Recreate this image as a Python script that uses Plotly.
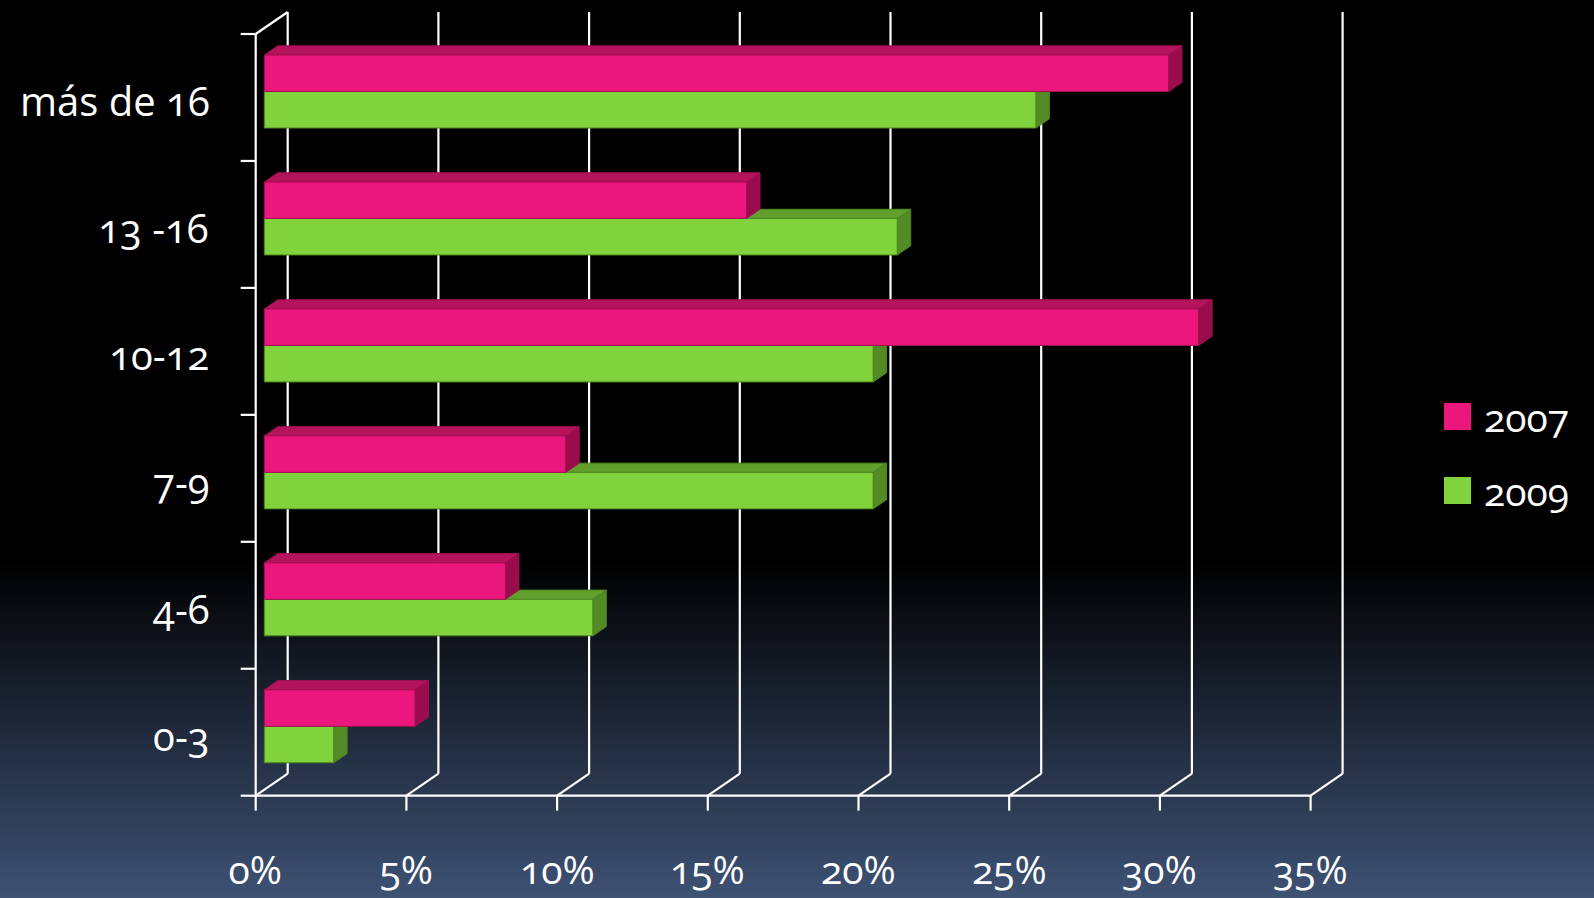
import plotly.graph_objects as go

# ---- data -------------------------------------------------------------
categories = ["0-3", "4-6", "7-9", "10-12", "13 -16", "más de 16"]
series_names = ["2007", "2009"]
values_2007 = [5.0, 8.0, 10.0, 31.0, 16.0, 30.0]
values_2009 = [2.3, 10.9, 20.2, 20.2, 21.0, 25.6]
x_tick_values = [0, 5, 10, 15, 20, 25, 30, 35]
x_tick_labels = ["0%", "5%", "10%", "15%", "20%", "25%", "30%", "35%"]

# ---- geometry ---------------------------------------------------------
W, H = 1594, 898
X0_PX, PX_PER_PCT = 255.7, 30.14      # front plane: 0 % position and scale
Y0_PX, PX_PER_CAT = 795.7, 126.95     # front plane: category base and band size

x_range = [-X0_PX / PX_PER_PCT, (W - X0_PX) / PX_PER_PCT]
y_range = [-(H - Y0_PX) / PX_PER_CAT, Y0_PX / PX_PER_CAT]


def ux(px):
    return px / PX_PER_PCT


def uy(px):
    return px / PX_PER_CAT


DX, DY = ux(32), uy(22)       # depth vector of the floor / back wall
F0, F1 = 0.27, 0.69           # front and back depth of the bars
BAR_H = 0.2875                # bar thickness in category units
X_MAX = x_tick_values[-1]
N = len(categories)

FONT = "Open Sans, Lato, sans-serif"
WHITE = "#FFFFFF"

styles = {
    "2007": dict(front="#EC177C", top="#B3145C", side="#9B0C4D", edge="#A10F52"),
    "2009": dict(front="#80D33C", top="#62A02D", side="#538C26", edge="#4E8622"),
}

fig = go.Figure()


def add_poly(xs, ys, fill, edge, width=1.0):
    fig.add_trace(go.Scatter(
        x=xs + [xs[0]], y=ys + [ys[0]], mode="lines", fill="toself",
        fillcolor=fill, line=dict(color=edge, width=width),
        hoverinfo="skip", showlegend=False,
    ))


def add_line(x0, y0, x1, y1, width=2.2):
    fig.add_trace(go.Scatter(
        x=[x0, x1], y=[y0, y1], mode="lines",
        line=dict(color=WHITE, width=width),
        hoverinfo="skip", showlegend=False,
    ))


# ---- back wall, floor edges and front axes ----------------------------
for v in x_tick_values:
    add_line(v + DX, DY, v + DX, N + DY)          # back wall gridline
    add_line(v, 0, v + DX, DY)                    # floor diagonal
    add_line(v, 0, v, -uy(15))                    # x tick mark
add_line(0, 0, X_MAX, 0)                          # x axis line
add_line(0, 0, 0, N)                              # y axis line
add_line(0, N, DX, N + DY)                        # top-left wall edge
for i in range(N + 1):
    add_line(0, i, -ux(15), i)                    # y tick marks


# ---- 3D bars ------------------------------------------------------------
def add_box(value, y_low, style):
    ax, ay = F0 * DX, F0 * DY
    bx, by = F1 * DX, F1 * DY
    y_high = y_low + BAR_H
    # top face
    add_poly([ax, value + ax, value + bx, bx],
             [y_high + ay, y_high + ay, y_high + by, y_high + by],
             style["top"], style["edge"])
    # right side face
    add_poly([value + ax, value + bx, value + bx, value + ax],
             [y_low + ay, y_low + by, y_high + by, y_high + ay],
             style["side"], style["edge"])
    # front face
    add_poly([ax, value + ax, value + ax, ax],
             [y_low + ay, y_low + ay, y_high + ay, y_high + ay],
             style["front"], style["edge"])


for i in range(N):
    centre = i + 0.5
    add_box(values_2009[i], centre - BAR_H, styles["2009"])
    add_box(values_2007[i], centre, styles["2007"])

# ---- tick labels --------------------------------------------------------
annotations = []
for v, label in zip(x_tick_values, x_tick_labels):
    annotations.append(dict(
        x=v, y=0, xref="x", yref="y", text=label, showarrow=False,
        xanchor="center", yanchor="top", yshift=-44,
        font=dict(family=FONT, size=39, color=WHITE),
    ))
for i, cat in enumerate(categories):
    annotations.append(dict(
        x=0, y=i + 0.5, xref="x", yref="y", text=cat, showarrow=False,
        xanchor="right", yanchor="middle", xshift=-43, yshift=-3,
        font=dict(family=FONT, size=40, color=WHITE),
    ))

# ---- legend -------------------------------------------------------------
shapes = []
legend_rows = [(series_names[0], 416.5), (series_names[1], 490.5)]
for name, cy in legend_rows:
    shapes.append(dict(
        type="rect", xref="paper", yref="paper",
        x0=1444 / W, x1=1471 / W, y0=1 - (cy + 13.5) / H, y1=1 - (cy - 13.5) / H,
        fillcolor=styles[name]["front"], line=dict(width=0), layer="above",
    ))
    annotations.append(dict(
        x=1480 / W, y=1 - cy / H, xref="paper", yref="paper", text=name,
        showarrow=False, xanchor="left", yanchor="middle",
        font=dict(family=FONT, size=39, color=WHITE),
    ))

# ---- background: black fading into slate blue near the bottom ----------
G_START, G_STEP = 560, 4
END_RGB = (62, 82, 116)
y = G_START
while y < H:
    t = (y + G_STEP / 2 - G_START) / (H - G_START)
    r, g, b = (int(round(c * t)) for c in END_RGB)
    shapes.append(dict(
        type="rect", xref="paper", yref="paper", layer="below",
        x0=0, x1=1, y0=1 - min(y + G_STEP, H) / H, y1=1 - y / H,
        fillcolor=f"rgb({r},{g},{b})", line=dict(width=0),
    ))
    y += G_STEP

fig.update_layout(
    width=W, height=H,
    margin=dict(l=0, r=0, t=0, b=0),
    paper_bgcolor="#000000",
    plot_bgcolor="rgba(0,0,0,0)",
    xaxis=dict(range=x_range, visible=False, fixedrange=True),
    yaxis=dict(range=y_range, visible=False, fixedrange=True),
    shapes=shapes,
    annotations=annotations,
    showlegend=False,
)

# old-style figures, as in the slide's typeface
onum_js = (
    "document.querySelectorAll('text').forEach(function(t){"
    "t.style.fontFeatureSettings='\"onum\" 1';});"
)

fig.write_html("out.html", post_script=onum_js,
               config={"displayModeBar": False, "staticPlot": True})
